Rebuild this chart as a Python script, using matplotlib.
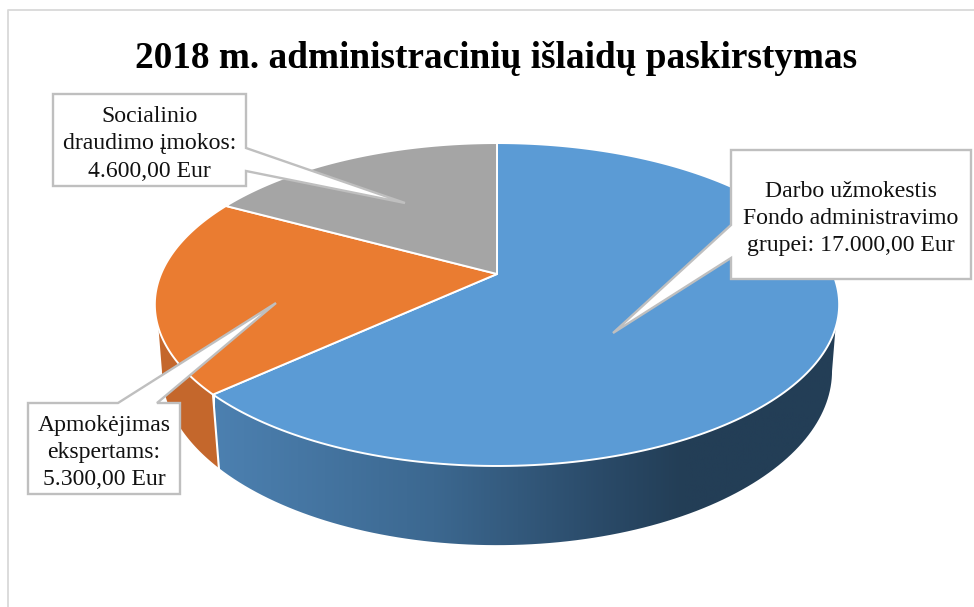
import numpy as np
import matplotlib
matplotlib.use("Agg")
import matplotlib.pyplot as plt
from matplotlib.colors import LinearSegmentedColormap
from matplotlib.patches import Polygon

plt.rcParams['font.family'] = ['Liberation Serif', 'DejaVu Serif']

title = "2018 m. administracinių išlaidų paskirstymas"
values = [17000.00, 5300.00, 4600.00]
names = ["Darbo užmokestis\nFondo administravimo\ngrupei: ", "Apmokėjimas\nekspertams:\n", "Socialinio\ndraudimo įmokos:\n"]
colors = ["#5b9bd5", "#ea7c31", "#a5a5a5"]

# pie geometry in pixels, the disc is a perspective view of a circle
cx = 497
k = 0.189
top_y0, top_a, top_b = 274, 155.7, 336
low_y0, low_a, low_b = 338, 168, 329


def disc(theta, y0, a, b):
    # theta in degrees, clockwise from the back of the pie
    t = np.radians(theta)
    u, v = np.sin(t), np.cos(t)
    d = 1 + k * v
    return np.column_stack([cx + b * u / d, y0 - a * v / d])


def top(theta):
    return disc(theta, top_y0, top_a, top_b)


def low(theta):
    return disc(theta, low_y0, low_a, low_b)


def euro(v):
    s = f"{v:,.2f}".replace(",", " ").replace(".", ",").replace(" ", ".")
    return s + " Eur"


fig = plt.figure(figsize=(9.74, 6.07), dpi=100)
ax = fig.add_axes([0, 0, 1, 1])

# chart frame, only left and top are visible
ax.plot([8, 8, 974], [607, 10, 10], color="#d9d9d9", lw=1.3, zorder=1)

edges = np.concatenate([[0], np.cumsum(values)]) / np.sum(values) * 360
b_end, o_end = edges[1], edges[2]

# sides
blue_side = np.vstack([top(np.linspace(109, b_end, 100)), low(np.linspace(b_end, 100.9, 100))])
orange_side = np.vstack([top(np.linspace(b_end, 251, 40)), low(np.linspace(259.1, b_end, 40))])

cmap = LinearSegmentedColormap.from_list("side", [(0, "#4c80b0"), (0.35, "#3c6890"), (0.62, "#2a4a68"), (0.75, "#233e56"), (1, "#233e56")])
im = ax.imshow(np.linspace(0, 1, 256)[None, :], extent=[215, 840, 560, 270], cmap=cmap, aspect="auto", zorder=2)
im.set_clip_path(Polygon(blue_side, transform=ax.transData))
ax.add_patch(Polygon(orange_side, fc="#c4672c", ec="none", zorder=2))
ax.plot(*np.vstack([top(b_end), low(b_end)]).T, color="white", lw=1.5, zorder=3)

# top faces
for i in range(3):
    th = np.linspace(edges[i], edges[i + 1], 200)
    pts = np.vstack([top(th), [[cx, top_y0]]])
    ax.add_patch(Polygon(pts, fc=colors[i], ec="white", lw=1.4, joinstyle="round", zorder=4))

# callouts: box x0, x1, y0, y1, then pointer base and tip
boxes = [
    (731, 971, 150, 279, [(731, 225), (613, 333), (731, 258)]),
    (28, 180, 403, 494, [(157, 403), (276, 303), (118, 403)]),
    (53, 246, 94, 186, [(246, 148), (405, 203), (246, 171)]),
]
for i, (x0, x1, y0, y1, ptr) in enumerate(boxes):
    if ptr[0][0] == x0:
        outline = [(x0, y0), (x1, y0), (x1, y1), (x0, y1), ptr[2], ptr[1], ptr[0]]
    elif ptr[0][0] == x1:
        outline = [(x0, y0), (x1, y0), ptr[0], ptr[1], ptr[2], (x1, y1), (x0, y1)]
    else:
        outline = [(x0, y0), ptr[2], ptr[1], ptr[0], (x1, y0), (x1, y1), (x0, y1)]
    ax.add_patch(Polygon(outline, fc="white", ec="#bfbfbf", lw=1.7, joinstyle="miter", zorder=5))
    ax.text((x0 + x1) / 2, (y0 + y1) / 2 + 4, names[i] + euro(values[i]), ha="center", va="center",
            fontsize=17.1, linespacing=1.38, color="#111111", zorder=6)

ax.text(496, 58, title, ha="center", va="center", fontsize=26.8, fontweight="bold", color="black", zorder=6)

ax.set_xlim(0, 974)
ax.set_ylim(607, 0)
ax.axis("off")
fig.savefig("out.png", dpi=100)
